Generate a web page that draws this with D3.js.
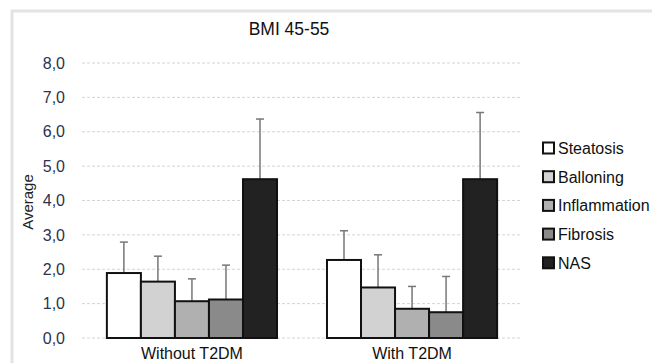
<!DOCTYPE html>
<html lang="en">
<head>
    <meta charset="UTF-8">
    <title>BMI 45-55</title>
    <script src="https://d3js.org/d3.v7.min.js"></script>
    <style>
        html, body {
            margin: 0;
            background: #fff;
            font-family: Arial, "Liberation Sans", sans-serif;
        }
    </style>
</head>
<body>
    <div id="vis"></div>
    <script>
        // data
        var groups = ["Without T2DM", "With T2DM"];
        var series = ["Steatosis", "Balloning", "Inflammation", "Fibrosis", "NAS"];
        var withoutT2DM = [1.89, 1.64, 1.07, 1.12, 4.62];
        var withT2DM = [2.27, 1.47, 0.85, 0.75, 4.62];
        var errWithout = [0.90, 0.74, 0.65, 1.00, 1.75];
        var errWith = [0.85, 0.95, 0.65, 1.04, 1.94];
        var yTicks = [0, 1, 2, 3, 4, 5, 6, 7, 8];
        var fills = ["#ffffff", "#d2d2d2", "#b0b0b0", "#8a8a8a", "#222222"];

        var W = 652, H = 363;
        var margin = {top: 63, left: 82, right: 130, bottom: 25};
        var width = W - margin.left - margin.right;
        var height = H - margin.top - margin.bottom;

        var svg = d3.select('#vis').append('svg')
            .attr('width', W)
            .attr('height', H);

        // frame of the chart area
        svg.append('rect')
            .attr('x', 12).attr('y', 11)
            .attr('width', W).attr('height', H)
            .attr('fill', 'none')
            .attr('stroke', '#e3e3e3')
            .attr('stroke-width', 3);

        var g = svg.append('g')
            .attr('transform', 'translate(' + margin.left + ',' + margin.top + ')');

        var x0 = d3.scaleBand().domain(groups).range([0, width]).paddingInner(0.227).paddingOuter(0.113);
        var x1 = d3.scaleBand().domain(series).range([0, x0.bandwidth()]);
        var y = d3.scaleLinear().domain([0, 8]).range([height, 0]);

        // gridlines
        g.selectAll('.grid').data(yTicks).enter().append('line')
            .attr('x1', 0).attr('x2', width)
            .attr('y1', function(d) { return y(d); })
            .attr('y2', function(d) { return y(d); })
            .attr('stroke', '#d4d4d4')
            .attr('stroke-dasharray', '3,2');

        // y tick labels
        var yAxis = g.append('g')
            .call(d3.axisLeft(y).tickValues(yTicks).tickSize(0).tickPadding(17)
                .tickFormat(function(d) { return d3.format('.1f')(d).replace('.', ','); }));
        yAxis.select('.domain').remove();
        yAxis.selectAll('text')
            .attr('font-size', 16)
            .attr('font-family', 'Arial, "Liberation Sans", sans-serif')
            .attr('fill', '#2b3350');

        // x labels
        var xAxis = g.append('g')
            .attr('transform', 'translate(0,' + height + ')')
            .call(d3.axisBottom(x0).tickSize(0).tickPadding(10));
        xAxis.select('.domain').remove();
        xAxis.selectAll('text')
            .attr('font-size', 16)
            .attr('font-family', 'Arial, "Liberation Sans", sans-serif')
            .attr('fill', '#111');

        var rows = [
            {group: groups[0], values: withoutT2DM, errs: errWithout},
            {group: groups[1], values: withT2DM, errs: errWith}
        ];

        var grp = g.selectAll('.grp').data(rows).enter().append('g')
            .attr('class', 'grp')
            .attr('transform', function(d) { return 'translate(' + x0(d.group) + ',0)'; });

        function items(d) {
            return series.map(function(s, i) { return {s: s, i: i, v: d.values[i], e: d.errs[i]}; });
        }

        // error bars (upper only), drawn under the bars
        var eb = grp.selectAll('.err').data(items).enter().append('g');
        eb.append('line')
            .attr('x1', function(d) { return x1(d.s) + x1.bandwidth() / 2; })
            .attr('x2', function(d) { return x1(d.s) + x1.bandwidth() / 2; })
            .attr('y1', function(d) { return y(d.v); })
            .attr('y2', function(d) { return y(d.v + d.e); })
            .attr('stroke', '#777').attr('stroke-width', 1.5);
        eb.append('line')
            .attr('x1', function(d) { return x1(d.s) + x1.bandwidth() / 2 - 4; })
            .attr('x2', function(d) { return x1(d.s) + x1.bandwidth() / 2 + 4; })
            .attr('y1', function(d) { return y(d.v + d.e); })
            .attr('y2', function(d) { return y(d.v + d.e); })
            .attr('stroke', '#777').attr('stroke-width', 1.5);

        grp.selectAll('.bar').data(items).enter().append('rect')
            .attr('class', 'bar')
            .attr('x', function(d) { return x1(d.s); })
            .attr('width', x1.bandwidth())
            .attr('y', function(d) { return y(d.v); })
            .attr('height', function(d) { return height - y(d.v); })
            .attr('fill', function(d) { return fills[d.i]; })
            .attr('stroke', '#111')
            .attr('stroke-width', 2);

        // title
        svg.append('text')
            .attr('x', 289).attr('y', 35)
            .attr('text-anchor', 'middle')
            .attr('font-size', 17.5)
            .attr('fill', '#111')
            .text('BMI 45-55');

        // y axis title
        svg.append('text')
            .attr('transform', 'translate(33,202) rotate(-90)')
            .attr('text-anchor', 'middle')
            .attr('font-size', 15)
            .attr('fill', '#222')
            .text('Average');

        // legend
        var leg = svg.append('g').attr('transform', 'translate(543,148)');
        var li = leg.selectAll('.li').data(series).enter().append('g')
            .attr('transform', function(d, i) { return 'translate(0,' + i * 28.7 + ')'; });
        li.append('rect')
            .attr('x', 0).attr('y', -5.5)
            .attr('width', 11).attr('height', 11)
            .attr('fill', function(d, i) { return fills[i]; })
            .attr('stroke', '#111').attr('stroke-width', 2);
        li.append('text')
            .attr('x', 15).attr('y', 6)
            .attr('font-size', 16)
            .attr('fill', '#111')
            .text(function(d) { return d; });
    </script>
</body>
</html>
